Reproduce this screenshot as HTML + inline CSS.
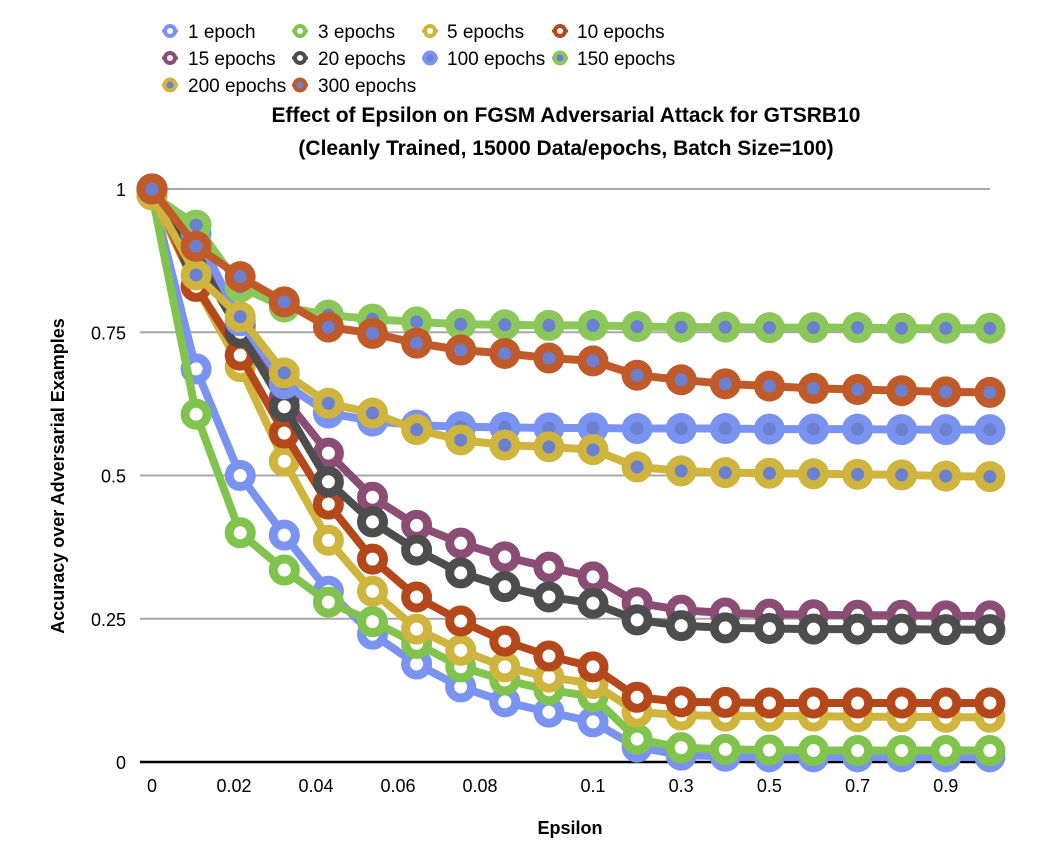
<!DOCTYPE html>
<html><head><meta charset="utf-8">
<style>
body{margin:0;background:#fff;}
svg text{font-family:"Liberation Sans",Arial,sans-serif;}
</style></head>
<body>
<svg id="chart" width="1046" height="858" viewBox="0 0 1046 858" xmlns="http://www.w3.org/2000/svg">
<g id="grid"></g>
<g id="axes"></g>
<g id="series"></g>
<g id="legend"></g>
<text x="566" y="122" text-anchor="middle" font-size="21" font-weight="bold">Effect of Epsilon on FGSM Adversarial Attack for GTSRB10</text>
<text x="566" y="155" text-anchor="middle" font-size="21" font-weight="bold">(Cleanly Trained, 15000 Data/epochs, Batch Size=100)</text>
<text x="570" y="834" text-anchor="middle" font-size="18" font-weight="bold">Epsilon</text>
<text transform="translate(64,476) rotate(-90)" text-anchor="middle" font-size="18" font-weight="bold">Accuracy over Adversarial Examples</text>
</svg>
<script>
const categories = ["0","0.01","0.02","0.03","0.04","0.05","0.06","0.07","0.08","0.09","0.1","0.2","0.3","0.4","0.5","0.6","0.7","0.8","0.9","1"];
const xTickLabels = ["0","","0.02","","0.04","","0.06","","0.08","","0.1","","0.3","","0.5","","0.7","","0.9",""];
const yTicks = [0,0.25,0.5,0.75,1];
const yTickLabels = ["0","0.25","0.5","0.75","1"];
const seriesNames = ["1 epoch","3 epochs","5 epochs","10 epochs","15 epochs","20 epochs","100 epochs","150 epochs","200 epochs","300 epochs"];
const s1 = [0.99,0.686,0.50,0.396,0.298,0.223,0.171,0.131,0.105,0.087,0.070,0.026,0.012,0.01,0.009,0.009,0.009,0.009,0.009,0.009];
const s3 = [0.99,0.607,0.40,0.335,0.279,0.245,0.207,0.166,0.143,0.126,0.114,0.04,0.025,0.022,0.021,0.02,0.02,0.02,0.02,0.02];
const s5 = [0.99,0.83,0.69,0.525,0.387,0.298,0.232,0.195,0.166,0.148,0.137,0.087,0.082,0.08,0.08,0.08,0.079,0.079,0.078,0.078];
const s10 = [1.0,0.83,0.71,0.574,0.45,0.354,0.288,0.246,0.211,0.185,0.166,0.113,0.105,0.104,0.103,0.103,0.103,0.103,0.103,0.103];
const s15 = [1.0,0.895,0.763,0.635,0.539,0.462,0.413,0.382,0.358,0.34,0.323,0.278,0.265,0.26,0.258,0.257,0.256,0.256,0.255,0.255];
const s20 = [1.0,0.88,0.75,0.62,0.489,0.419,0.37,0.33,0.306,0.288,0.277,0.248,0.238,0.234,0.233,0.232,0.232,0.232,0.231,0.231];
const s100 = [0.99,0.923,0.77,0.66,0.609,0.595,0.588,0.585,0.584,0.583,0.583,0.582,0.582,0.582,0.581,0.581,0.581,0.58,0.58,0.58];
const s150 = [0.99,0.937,0.829,0.794,0.78,0.773,0.768,0.764,0.763,0.762,0.762,0.76,0.759,0.759,0.758,0.758,0.758,0.757,0.757,0.757];
const s200 = [0.99,0.85,0.777,0.679,0.626,0.609,0.58,0.562,0.553,0.55,0.545,0.515,0.508,0.505,0.504,0.503,0.502,0.501,0.499,0.498];
const s300 = [1.0,0.90,0.847,0.803,0.759,0.748,0.731,0.719,0.713,0.705,0.70,0.675,0.667,0.66,0.656,0.652,0.65,0.648,0.646,0.645];
const allSeries = [s1,s3,s5,s10,s15,s20,s100,s150,s200,s300];
const colors = ["#7b93f0","#80c44e","#cfb43e","#b5481a","#8c4d74","#4d4d4d","#7b93f0","#8cc75a","#cfb43e","#c05a28"];
const filled = [false,false,false,false,false,false,true,true,true,true];

const NS="http://www.w3.org/2000/svg";
const X0=152, STEP=44.1, Y0=762, Y1=189;
function xs(i){return X0+i*STEP;}
function ys(v){return Y0-(Y0-Y1)*v;}
function labelX(i){return i<10 ? X0+i*41 : xs(i);}
function mk(tag,attrs,parent){const e=document.createElementNS(NS,tag);for(const k in attrs)e.setAttribute(k,attrs[k]);parent.appendChild(e);return e;}

const grid=document.getElementById('grid'), axes=document.getElementById('axes'), ser=document.getElementById('series'), leg=document.getElementById('legend');
yTicks.forEach((t,i)=>{
  if(t>0){const l=mk('line',{x1:140,x2:990,y1:ys(t),y2:ys(t),stroke:'#a8a8a8','stroke-width':2},grid);
  
  }
  const tx=mk('text',{x:126,y:ys(t)+7,'text-anchor':'end','font-size':18},axes);
  tx.textContent=yTickLabels[i];
  
  
});
const ax=mk('line',{x1:140,x2:990,y1:Y0,y2:Y0,stroke:'#000','stroke-width':2.5},axes);


categories.forEach((c,i)=>{
  if(!xTickLabels[i])return;
  const tx=mk('text',{x:labelX(i),y:792,'text-anchor':'middle','font-size':18},axes);
  tx.textContent=xTickLabels[i];
  
  
});
allSeries.forEach((d,si)=>{
  const g=mk('g',{},ser);
  
  
  const pts=d.map((v,i)=>xs(i)+','+ys(v)).join(' ');
  const pl=mk('polyline',{points:pts,fill:'none',stroke:colors[si],'stroke-width':8,'stroke-linejoin':'round'},g);
  
  
  d.forEach((v,i)=>{
    const c=mk('circle',{cx:xs(i),cy:ys(v),r:filled[si]?15.5:11,fill:filled[si]?colors[si]:'#fff',stroke:colors[si],'stroke-width':filled[si]?0:9},g);
    
    
    if(filled[si]){const ci=mk('circle',{cx:xs(i),cy:ys(v),r:6.5,fill:'#6b80cf'},g);
      
      }
  });
});
const legX=[170,300,430,560], legTX=[188,318,447,577], legY=[31,58,85];
seriesNames.forEach((n,si)=>{
  const col=si%4,row=Math.floor(si/4);
  const g=mk('g',{},leg);
  
  
  mk('line',{x1:legX[col]-8,x2:legX[col]+8,y1:legY[row],y2:legY[row],stroke:colors[si],'stroke-width':3},g);
  mk('circle',{cx:legX[col],cy:legY[row],r:filled[si]?7.5:5,fill:filled[si]?colors[si]:'#fff',stroke:colors[si],'stroke-width':filled[si]?0:4},g);
  if(filled[si])mk('circle',{cx:legX[col],cy:legY[row],r:3.5,fill:'#6b80cf'},g);
  const t=mk('text',{x:legTX[col],y:legY[row]+7,'font-size':19},g);
  t.textContent=n;
});
</script>
</body></html>
